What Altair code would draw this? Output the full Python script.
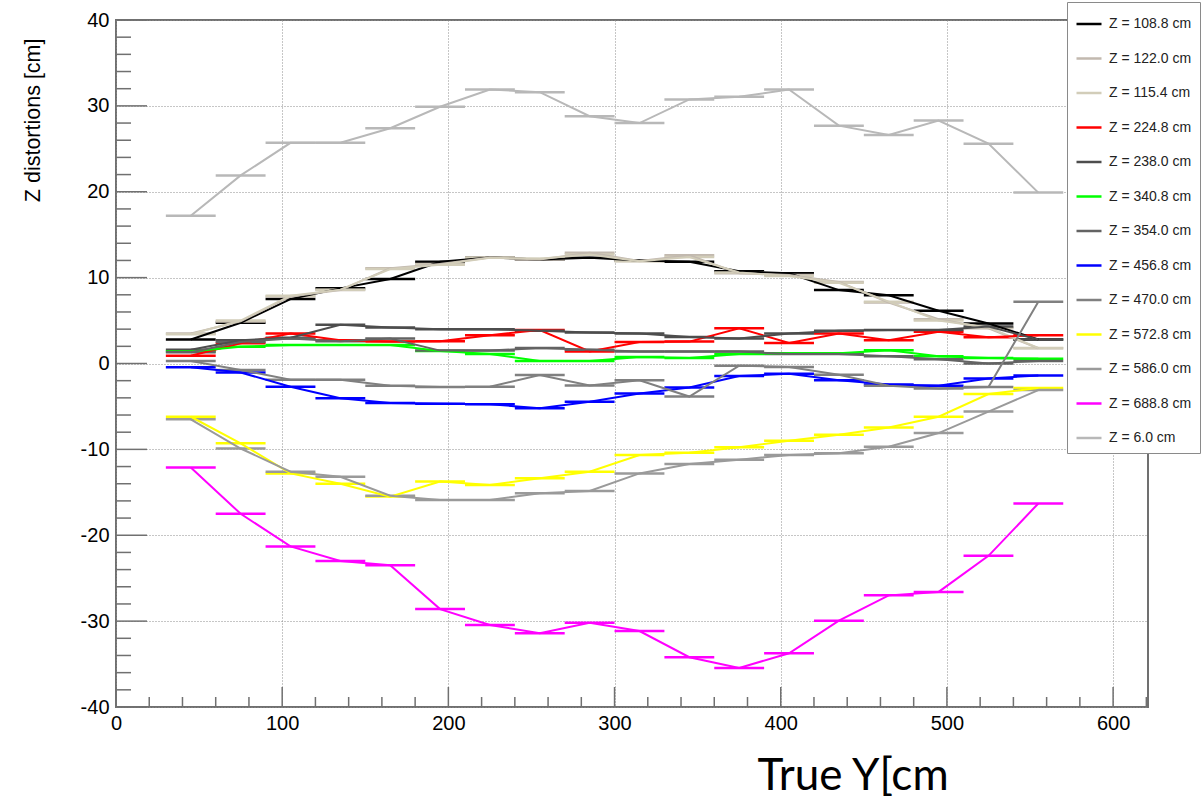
import altair as alt
import pandas as pd

# ---------------- data ----------------
X_CENTERS = [45, 75, 105, 135, 165, 195, 225, 255, 285, 315, 345, 375, 405, 435, 465, 495, 525, 555]
BIN_HALF_WIDTH = 15

SERIES = ["Z = 108.8 cm", "Z = 122.0 cm", "Z = 115.4 cm", "Z = 224.8 cm", "Z = 238.0 cm",
          "Z = 340.8 cm", "Z = 354.0 cm", "Z = 456.8 cm", "Z = 470.0 cm", "Z = 572.8 cm",
          "Z = 586.0 cm", "Z = 688.8 cm", "Z = 6.0 cm"]
COLORS = ["#000000", "#c2b9af", "#d2cdb9", "#ff0000", "#4d4d4d",
          "#00ff00", "#636363", "#0000ff", "#808080", "#ffff00",
          "#9a9a9a", "#ff00ff", "#b8b8b8"]

z108_8 = [2.8, 4.75, 7.5, 8.75, 9.85, 11.85, 12.35, 12.1, 12.3, 12.0, 11.85, 10.75, 10.5, 8.55, 7.95, 6.15, 4.65, 2.8]
z122_0 = [3.5, 4.9, 7.8, 8.55, 11.08, 11.6, 12.35, 12.1, 12.9, 11.95, 12.6, 10.5, 10.3, 9.5, 7.1, 5.15, 4.1, 1.77]
z115_4 = [3.4, 5.0, 7.9, 8.6, 11.0, 11.5, 12.3, 12.2, 12.7, 11.9, 12.4, 10.6, 10.2, 9.4, 7.2, 5.0, 4.2, 1.8]
z224_8 = [0.9, 2.35, 3.5, 2.7, 2.55, 2.6, 3.3, 3.9, 1.4, 2.5, 2.55, 4.1, 2.4, 3.5, 2.7, 3.7, 3.05, 3.3]
z238_0 = [1.6, 2.7, 3.0, 4.5, 4.2, 4.0, 4.0, 3.8, 3.6, 3.5, 3.1, 2.9, 3.5, 3.8, 3.9, 3.9, 4.3, 2.8]
z340_8 = [1.4, 1.95, 2.15, 2.15, 2.15, 1.45, 1.1, 0.3, 0.3, 0.75, 0.65, 1.1, 1.2, 1.2, 1.55, 0.85, 0.65, 0.55]
z354_0 = [1.3, 2.5, 2.9, 2.6, 2.9, 1.5, 1.5, 1.8, 1.6, 1.4, 1.4, 1.4, 1.1, 1.1, 0.85, 0.5, 0.0, 0.3]
z456_8 = [-0.45, -1.05, -2.7, -4.05, -4.6, -4.7, -4.75, -5.2, -4.45, -3.5, -2.8, -1.45, -1.2, -1.95, -2.45, -2.6, -1.75, -1.4]
z470_0 = [0.3, -0.75, -1.9, -1.9, -2.6, -2.75, -2.7, -1.35, -2.55, -1.95, -3.85, -0.25, -0.4, -1.3, -2.6, -2.9, -2.75, 7.2]
z572_8 = [-6.2, -9.3, -12.8, -14.0, -15.5, -13.75, -14.15, -13.35, -12.6, -10.65, -10.4, -9.75, -9.0, -8.3, -7.45, -6.2, -3.55, -2.85]
z586_0 = [-6.5, -9.9, -12.6, -13.2, -15.4, -15.9, -15.9, -15.1, -14.85, -12.8, -11.7, -11.2, -10.65, -10.45, -9.7, -8.1, -5.6, -3.1]
z688_8 = [-12.1, -17.5, -21.3, -23.0, -23.5, -28.6, -30.45, -31.4, -30.2, -31.15, -34.2, -35.45, -33.75, -29.95, -27.0, -26.6, -22.4, -16.3]
z6_0 = [17.2, 21.9, 25.7, 25.7, 27.4, 29.9, 31.9, 31.6, 28.8, 28.0, 30.75, 31.05, 31.9, 27.7, 26.6, 28.3, 25.6, 19.9]

VALUES = [z108_8, z122_0, z115_4, z224_8, z238_0, z340_8, z354_0,
          z456_8, z470_0, z572_8, z586_0, z688_8, z6_0]

X_MAJOR_TICKS = [0, 100, 200, 300, 400, 500, 600]
X_MINOR_TICKS = [v for v in range(20, 621, 20) if v % 100 != 0]
Y_MAJOR_TICKS = [-40, -30, -20, -10, 0, 10, 20, 30, 40]
Y_MINOR_TICKS = [v for v in range(-38, 39, 2) if v % 10 != 0]

# ---------------- build table ----------------
rows = []
for name, vals in zip(SERIES, VALUES):
    for x, y in zip(X_CENTERS, vals):
        rows.append({"series": name, "x": x, "y": y,
                     "xlo": x - BIN_HALF_WIDTH, "xhi": x + BIN_HALF_WIDTH})
df = pd.DataFrame(rows)

W, H = 1032, 687
FONT = "Liberation Sans, Arial, Helvetica, sans-serif"

xs = alt.Scale(domain=[0, 621], nice=False, zero=False)
ys = alt.Scale(domain=[-40, 40], nice=False, zero=False)

X_AXIS = alt.Axis(values=X_MAJOR_TICKS, title="True Y[cm", titleFont="Lato, Open Sans, sans-serif",
                  titleFontSize=44, titleFontWeight="normal", titleColor="#000",
                  titleX=641, titleY=82, titleAlign="left", titleBaseline="alphabetic",
                  labelFont=FONT, labelFontSize=20, labelColor="#000", labelPadding=6,
                  labelFlush=False, ticks=False, tickSize=0, domain=False,
                  grid=True, gridDash=[1, 2], gridColor="#8c8c8c", gridWidth=1)
Y_AXIS = alt.Axis(values=Y_MAJOR_TICKS, title="Z distortions [cm]", titleFont=FONT,
                  titleFontSize=21.5, titleFontWeight="normal", titleColor="#000",
                  titleX=-83, titleY=18, titleAlign="right", titleBaseline="middle", titleAngle=270,
                  labelFont=FONT, labelFontSize=20, labelColor="#000", labelPadding=7,
                  labelExpr="datum.value < 0 ? '-' + abs(datum.value) : '' + datum.value",
                  ticks=False, tickSize=0, domain=False,
                  grid=True, gridDash=[1, 2], gridColor="#8c8c8c", gridWidth=1)

LEGEND = alt.Legend(orient="none", legendX=951, legendY=-18, title=None,
                    symbolType="stroke", symbolSize=625, symbolStrokeWidth=2.5,
                    labelFont=FONT, labelFontSize=14, labelColor="#222", labelOffset=6,
                    rowPadding=13.5, padding=8, strokeColor="#8a8a8a", fillColor="white")

color = alt.Color("series:N", scale=alt.Scale(domain=SERIES, range=COLORS), sort=SERIES, legend=LEGEND)

tick_color = "#707070"
x_major = alt.Chart(pd.DataFrame({"v": X_MAJOR_TICKS})).mark_rule(color=tick_color, strokeWidth=1.5).encode(
    x=alt.X("v:Q", scale=xs, axis=X_AXIS), y=alt.value(H), y2=alt.value(H - 20))
x_minor = alt.Chart(pd.DataFrame({"v": X_MINOR_TICKS})).mark_rule(color=tick_color, strokeWidth=1.5).encode(
    x=alt.X("v:Q", scale=xs, axis=X_AXIS), y=alt.value(H), y2=alt.value(H - 10))
y_major = alt.Chart(pd.DataFrame({"v": Y_MAJOR_TICKS})).mark_rule(color=tick_color, strokeWidth=1.5).encode(
    y=alt.Y("v:Q", scale=ys, axis=Y_AXIS), x=alt.value(0), x2=alt.value(31))
y_minor = alt.Chart(pd.DataFrame({"v": Y_MINOR_TICKS})).mark_rule(color=tick_color, strokeWidth=1.5).encode(
    y=alt.Y("v:Q", scale=ys, axis=Y_AXIS), x=alt.value(0), x2=alt.value(15))

base = alt.Chart(df)
bars = base.mark_rule(strokeWidth=2.5).encode(
    x=alt.X("xlo:Q", scale=xs, axis=X_AXIS), x2="xhi:Q",
    y=alt.Y("y:Q", scale=ys, axis=Y_AXIS), color=color)
lines = base.mark_line(strokeWidth=2).encode(
    x=alt.X("x:Q", scale=xs, axis=X_AXIS),
    y=alt.Y("y:Q", scale=ys, axis=Y_AXIS), color=color, detail="series:N")

chart = alt.layer(x_major, x_minor, y_major, y_minor, bars, lines).properties(
    width=W, height=H,
    autosize=alt.AutoSizeParams(type="none"),
    padding={"left": 116, "top": 20, "right": 55, "bottom": 94},
    background="white",
).configure_view(stroke="#707070", strokeWidth=2)

chart.save("out.html", embed_options={"renderer": "svg", "actions": False})
